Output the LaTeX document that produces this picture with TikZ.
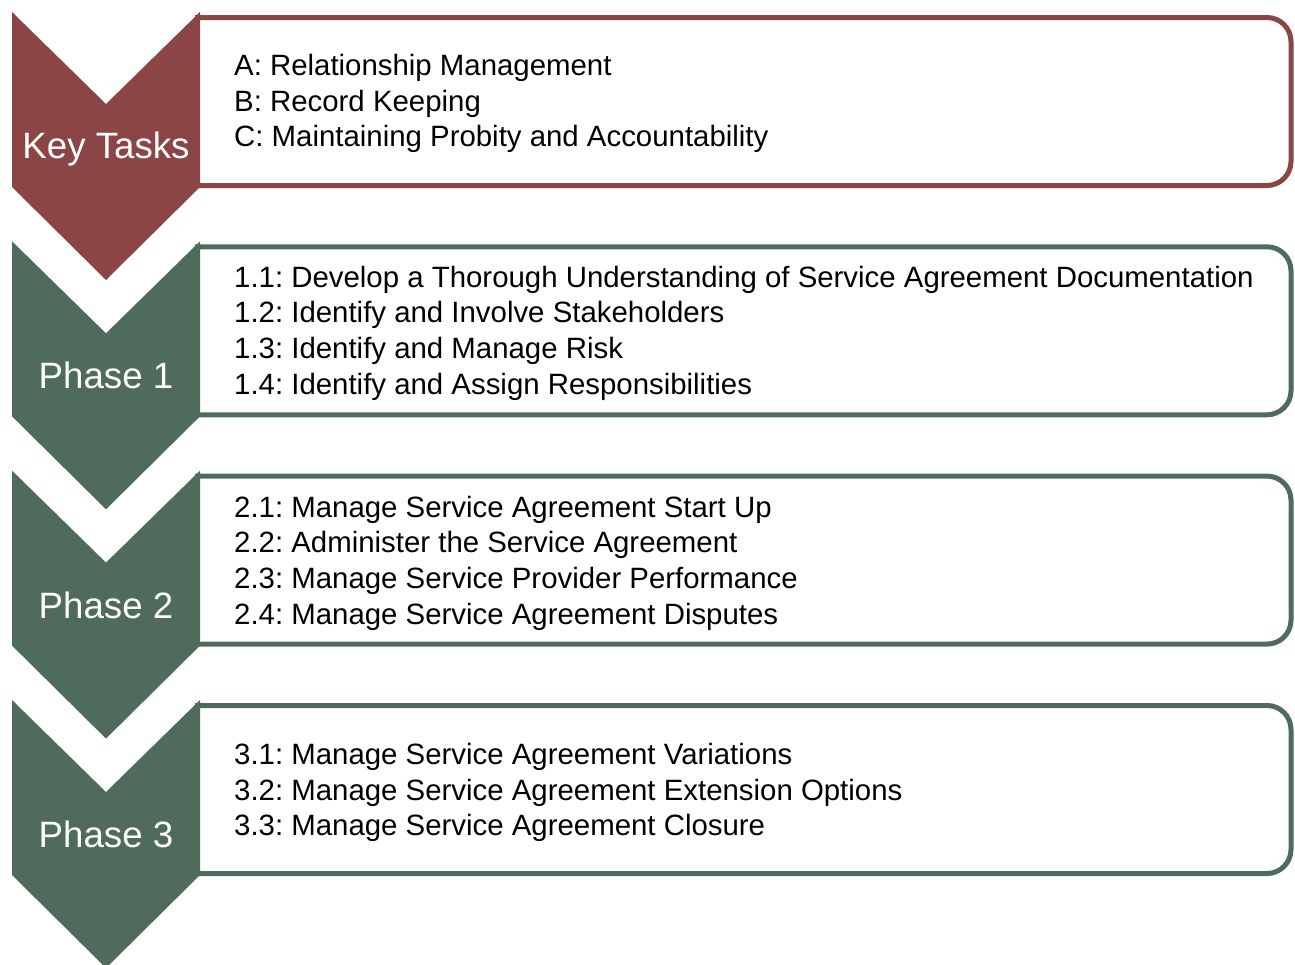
\documentclass[tikz,border=0pt]{standalone}
\usepackage{fontspec}
\setmainfont{Liberation Sans}
\frenchspacing
\definecolor{kred}{HTML}{8B4545}
\definecolor{kgreen}{HTML}{4F6B5B}
\tikzset{
  chev/.style={fill=#1, draw=none},
  tbox/.style={draw=#1, line width=5bp, rounded corners=24bp},
  lbl/.style={text=white, font=\fontsize{36.8}{44}\selectfont, inner sep=0pt},
  items/.style={anchor=west, align=left, font=\fontsize{29.5}{35.8}\selectfont, inner sep=0pt, text=black},
}
\begin{document}
\begin{tikzpicture}[x=1bp, y=-1bp]
\useasboundingbox (0,0) rectangle (1295,965);
% Key tasks
\draw[tbox=kred] (195,17.5) -- (1291,17.5) -- (1291,185.5) -- (195,185.5);
\fill[chev=kred] (12,12) -- (106,104) -- (200,12) -- (200,187) -- (106,280) -- (12,187) -- cycle;
\node[lbl] (kt) at (106,149) {Key Tasks};
\node[items] (kti) at (234,103.5) {A: Relationship Management\\B: Record Keeping\\C: Maintaining Probity and Accountability};
% Phase 1
\draw[tbox=kgreen] (195,246.8) -- (1291,246.8) -- (1291,414.8) -- (195,414.8);
\fill[chev=kgreen] (12,241.3) -- (106,333.3) -- (200,241.3) -- (200,416.3) -- (106,509.3) -- (12,416.3) -- cycle;
\node[lbl] (p1) at (106,375.5) {Phase 1};
\node[items] (p1i) at (234,333) {1.1: Develop a Thorough Understanding of Service Agreement Documentation\\1.2: Identify and Involve Stakeholders\\1.3: Identify and Manage Risk\\1.4: Identify and Assign Responsibilities};
% Phase 2
\draw[tbox=kgreen] (195,476.1) -- (1291,476.1) -- (1291,644.1) -- (195,644.1);
\fill[chev=kgreen] (12,470.6) -- (106,562.6) -- (200,470.6) -- (200,645.6) -- (106,738.6) -- (12,645.6) -- cycle;
\node[lbl] (p2) at (106,605) {Phase 2};
\node[items] (p2i) at (234,563) {2.1: Manage Service Agreement Start Up\\2.2: Administer the Service Agreement\\2.3: Manage Service Provider Performance\\2.4: Manage Service Agreement Disputes};
% Phase 3
\draw[tbox=kgreen] (195,705.5) -- (1291,705.5) -- (1291,873.5) -- (195,873.5);
\fill[chev=kgreen] (12,700) -- (106,792) -- (200,700) -- (200,875) -- (106,968) -- (12,875) -- cycle;
\node[lbl] (p3) at (106,834.5) {Phase 3};
\node[items] (p3i) at (234,792.5) {3.1: Manage Service Agreement Variations\\3.2: Manage Service Agreement Extension Options\\3.3: Manage Service Agreement Closure};
\end{tikzpicture}
\end{document}
